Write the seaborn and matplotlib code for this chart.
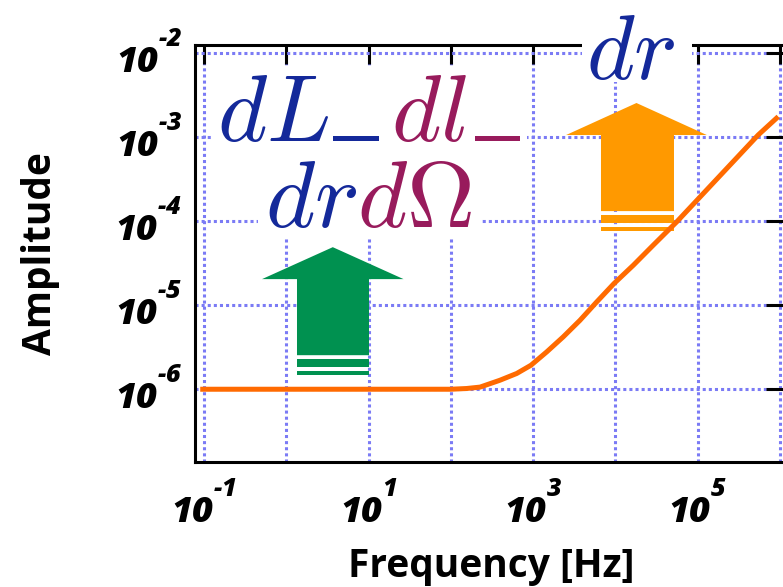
import numpy as np
import pandas as pd
import matplotlib
matplotlib.use("Agg")
import matplotlib.pyplot as plt
import matplotlib._mathtext as _mt
import seaborn as sns
from matplotlib.patches import Polygon, Rectangle
from matplotlib.ticker import FixedLocator, FixedFormatter, NullLocator
from matplotlib.offsetbox import TextArea, HPacker, VPacker, AnnotationBbox, DrawingArea

# ---------------- data ----------------
freq_hz = [0.09, 1, 10, 100, 155, 226, 395, 631, 940, 1460, 2320, 3700, 5900,
           9600, 16500, 28800, 55500, 543000, 950000]
amplitude = [1.0e-6, 1.0e-6, 1.0e-6, 1.0e-6, 1.02e-6, 1.06e-6, 1.28e-6, 1.54e-6,
             1.93e-6, 2.78e-6, 4.2e-6, 6.6e-6, 1.09e-5, 1.81e-5, 2.99e-5, 5.18e-5,
             9.8e-5, 1.06e-3, 1.75e-3]

x_ticks = [1e-1, 1e0, 1e1, 1e2, 1e3, 1e4, 1e5, 1e6]
x_ticklabels = [r"$10^{\text{-}1}$", "", r"$10^{1}$", "", r"$10^{3}$", "", r"$10^{5}$", ""]
y_ticks = [1e-6, 1e-5, 1e-4, 1e-3, 1e-2]
y_ticklabels = [r"$10^{\text{-}6}$", r"$10^{\text{-}5}$", r"$10^{\text{-}4}$",
                r"$10^{\text{-}3}$", r"$10^{\text{-}2}$"]

x_label = "Frequency [Hz]"
y_label = "Amplitude"

# annotation text pieces (text, colour, trailing underscore?)
BLUE = "#14299a"
MAROON = "#981b5c"
label_line1 = [(r"$dL$", BLUE, True), (r"$dl$", MAROON, True)]
label_line2 = [(r"$dr$", BLUE, False), (r"$d\Omega$", MAROON, False)]
label_top = [(r"$dr$", BLUE, False)]

# ---------------- style ----------------
sns.set_theme(style="white")
plt.rcParams["font.family"] = ["Open Sans", "DejaVu Sans"]
plt.rcParams["text.color"] = "black"
plt.rcParams["axes.labelcolor"] = "black"
plt.rcParams["xtick.color"] = "black"
plt.rcParams["ytick.color"] = "black"
plt.rcParams["mathtext.fontset"] = "custom"
plt.rcParams["mathtext.rm"] = "Open Sans:style=italic:weight=800"
plt.rcParams["mathtext.it"] = "Open Sans:style=italic:weight=800"
plt.rcParams["mathtext.bf"] = "Open Sans:style=italic:weight=800"
# raise superscripts higher, as in the reference tick labels
_mt.FontConstantsBase.sup1 = 1.3

fig = plt.figure(figsize=(7.83, 5.87), dpi=100)
ax = fig.add_axes([194.5 / 783, 1 - 461.7 / 587, (785 - 194.5) / 783, (461.7 - 45) / 587])

df = pd.DataFrame({"freq": freq_hz, "amp": amplitude})
sns.lineplot(data=df, x="freq", y="amp", ax=ax, color="#ff6a00", linewidth=3.6,
             sort=False, estimator=None, zorder=5, solid_capstyle="butt")

ax.set_xscale("log")
ax.set_yscale("log")
ax.set_xlim(10 ** -1.1154, 10 ** 6.06)
ax.set_ylim(10 ** -6.862, 10 ** -1.905)

ax.xaxis.set_major_locator(FixedLocator(x_ticks))
ax.xaxis.set_major_formatter(FixedFormatter(x_ticklabels))
ax.yaxis.set_major_locator(FixedLocator(y_ticks))
ax.yaxis.set_major_formatter(FixedFormatter(y_ticklabels))
ax.xaxis.set_minor_locator(NullLocator())
ax.yaxis.set_minor_locator(NullLocator())

ax.tick_params(axis="both", which="major", direction="in", length=14, width=2.2,
               top=True, right=True, labelsize=26, color="black", labelcolor="black")
ax.tick_params(axis="x", pad=15.5)
ax.tick_params(axis="y", pad=9)

ax.grid(True, which="major", color="#7b7bf5", linestyle=(0, (1, 1)), linewidth=2.2)
ax.set_axisbelow(True)
for s in ax.spines.values():
    s.set_linewidth(2.2)
    s.set_color("black")

ax.set_xlabel(x_label, fontsize=28, fontweight="bold", color="black")
ax.set_ylabel(y_label, fontsize=28, fontweight="bold", color="black")
ax.xaxis.label.set_verticalalignment("center")
ax.yaxis.label.set_verticalalignment("center")
ax.xaxis.set_label_coords(0.502, (461.7 - 566) / 416.7)
ax.yaxis.set_label_coords((40 - 194.5) / 590.5, 0.5)


# ---------------- block arrows (annotation shapes, log10 coordinates) ----------------
def log_poly(ax, pts, color, z, clip=True):
    p = Polygon([(10 ** a, 10 ** b) for a, b in pts], closed=True, facecolor=color,
                edgecolor="none", zorder=z)
    p.set_clip_on(clip)
    ax.add_patch(p)


def up_arrow(ax, shaft, head, y_tip, y_head, y_bot, stripes, color):
    xc = (head[0] + head[1]) / 2
    log_poly(ax, [(shaft[0], y_bot), (shaft[0], y_head), (head[0], y_head), (xc, y_tip),
                  (head[1], y_head), (shaft[1], y_head), (shaft[1], y_bot)], color, 2)
    for y0, y1 in stripes:
        log_poly(ax, [(shaft[0], y0), (shaft[1], y0), (shaft[1], y1), (shaft[0], y1)],
                 color, 2)


up_arrow(ax, (0.13, 1.005), (-0.295, 1.425), -4.31, -4.69, -5.595,
         [(-5.643, -5.738), (-5.786, -5.833)], "#009150")
up_arrow(ax, (3.824, 4.711), (3.40, 5.11), -2.595, -2.976, -3.881,
         [(-3.929, -4.024), (-4.071, -4.119)], "#ff9900")


# white backgrounds behind the labels (log10 coordinates)
def white_box(ax, x0, x1, y0, y1):
    log_poly(ax, [(x0, y0), (x1, y0), (x1, y1), (x0, y1)], "white", 9, clip=False)


white_box(ax, -0.891, 2.925, -2.155, -3.155)
white_box(ax, -0.344, 2.354, -3.155, -4.202)
white_box(ax, 3.593, 4.929, -1.40, -2.345)

# ---------------- coloured math labels ----------------
PX = 72 / 100.0  # points per pixel


def underscore(color, gap_l, width, gap_r):
    da = DrawingArea((gap_l + width + gap_r) * PX, 3.6, 0, 0)
    da.add_artist(Rectangle((gap_l * PX, 0), width * PX, 3.6, facecolor=color,
                            edgecolor="none"))
    return da


def line_box(parts, size, bars=((4, 46, 12), (8, 45, 0))):
    kids = []
    bi = 0
    for t, c, us in parts:
        kids.append(TextArea(t, textprops=dict(color=c, fontsize=size,
                                                math_fontfamily="cm")))
        if us:
            kids.append(underscore(c, *bars[bi]))
            bi += 1
    return HPacker(children=kids, pad=0, sep=0, align="baseline")


MSIZE = 68
block = VPacker(children=[line_box(label_line1, MSIZE), line_box(label_line2, MSIZE)],
                pad=0, sep=-5.0, align="center")
ab = AnnotationBbox(block, (10 ** 1.0, 10 ** -3.268), xycoords="data",
                    box_alignment=(0.5, 0.5), frameon=False, zorder=11,
                    annotation_clip=False)
ab.set_clip_on(False)
ax.add_artist(ab)

top = line_box(label_top, 66)
ab2 = AnnotationBbox(top, (10 ** 4.19, 10 ** -2.025), xycoords="data",
                     box_alignment=(0.5, 0.5), frameon=False, zorder=11,
                     annotation_clip=False)
ab2.set_clip_on(False)
ax.add_artist(ab2)

fig.savefig("out.png", dpi=100)
